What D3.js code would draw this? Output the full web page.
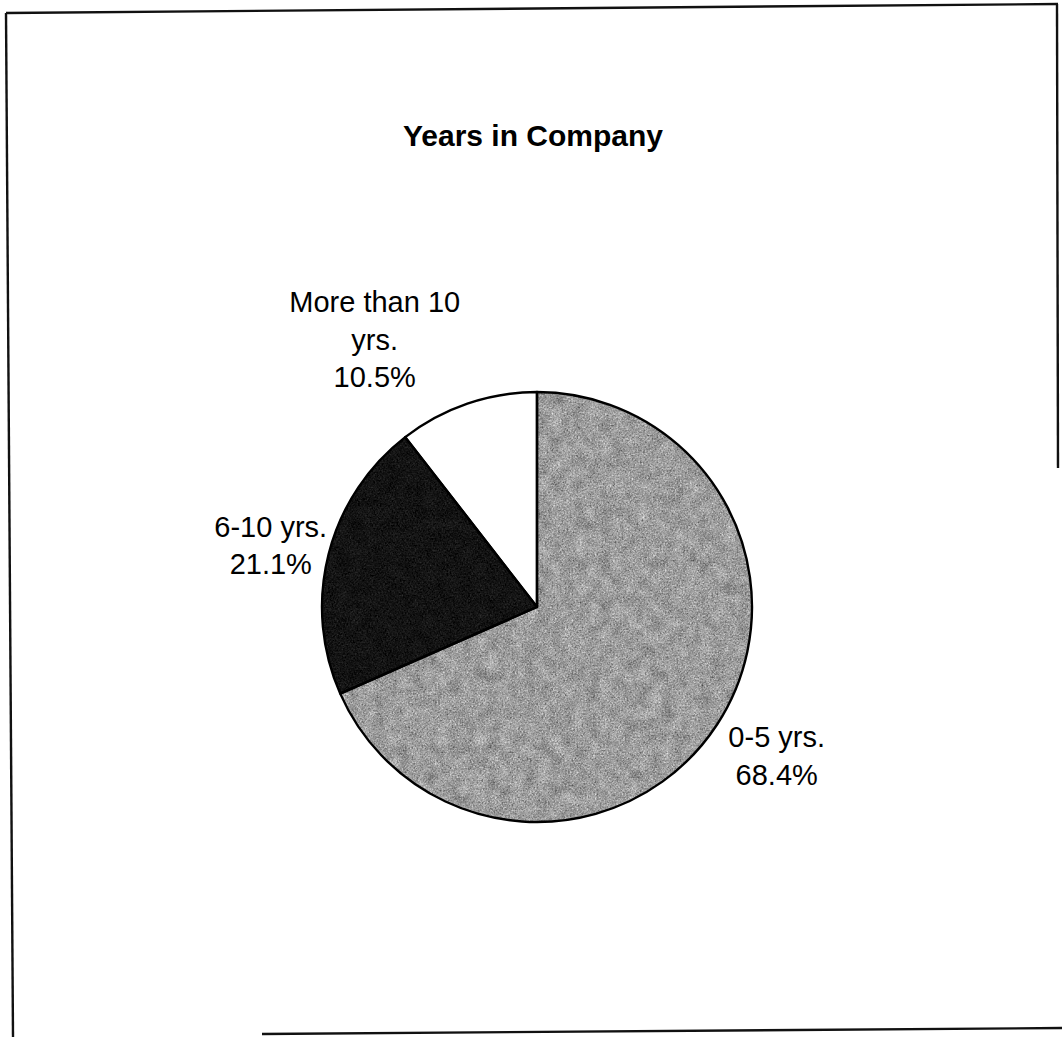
<!DOCTYPE html>
<html>
<head>
<meta charset="utf-8">
<script src="https://cdn.jsdelivr.net/npm/d3@7"></script>
<style>
  html, body { margin: 0; padding: 0; background: #fff; }
  svg { display: block; }
</style>
</head>
<body>
<svg id="chart" width="1062" height="1037"></svg>
<script>
// Share of staff by length of service
const categories = ["0-5 yrs.", "6-10 yrs.", "More than 10 yrs."];
const labelLines = [["0-5 yrs."], ["6-10 yrs."], ["More than 10", "yrs."]];
const values = [68.4, 21.1, 10.5];
const sliceFills = ["#9e9e9e", "#141414", "#ffffff"];
const fineGrain = [1.0, 0.4, 0];
const coarseGrain = [0.45, 0.12, 0];

const W = 1062, H = 1037;
const cx = 537, cy = 607, radius = 215;
const fontFamily = "'Liberation Sans', Arial, sans-serif";
const lineStep = 37.5;
// fine placement of each label block around its slice
const labelNudge = [[1, -7], [10, 8], [-70, 2]];

const svg = d3.select("#chart");
const defs = svg.append("defs");

// printed-grain texture for the shaded slices: fine speckle plus soft mottling
fineGrain.forEach((amt, i) => {
  const f = defs.append("filter").attr("id", "grain" + i)
    .attr("x", 0).attr("y", 0).attr("width", 1).attr("height", 1)
    .attr("color-interpolation-filters", "sRGB");
  const greyMatrix = "0.33 0.33 0.33 0 0  0.33 0.33 0.33 0 0  0.33 0.33 0.33 0 0  0 0 0 0 1";
  f.append("feTurbulence").attr("type", "fractalNoise")
    .attr("baseFrequency", 0.6).attr("numOctaves", 3).attr("seed", 7 + i)
    .attr("result", "fineNoise");
  f.append("feColorMatrix").attr("in", "fineNoise").attr("type", "matrix")
    .attr("values", greyMatrix).attr("result", "fine");
  f.append("feTurbulence").attr("type", "fractalNoise")
    .attr("baseFrequency", 0.08).attr("numOctaves", 3).attr("seed", 21 + i)
    .attr("result", "coarseNoise");
  f.append("feColorMatrix").attr("in", "coarseNoise").attr("type", "matrix")
    .attr("values", greyMatrix).attr("result", "coarse");
  f.append("feComposite").attr("in", "fine").attr("in2", "SourceGraphic")
    .attr("operator", "arithmetic")
    .attr("k1", 0).attr("k2", amt).attr("k3", 1).attr("k4", -0.5 * amt)
    .attr("result", "mix1");
  f.append("feComposite").attr("in", "coarse").attr("in2", "mix1")
    .attr("operator", "arithmetic")
    .attr("k1", 0).attr("k2", coarseGrain[i]).attr("k3", 1).attr("k4", -0.5 * coarseGrain[i])
    .attr("result", "mix2");
  f.append("feComposite").attr("in", "mix2").attr("in2", "SourceAlpha")
    .attr("operator", "in");
});

// frame
const frame = svg.append("g").attr("stroke", "#111").attr("stroke-width", 2.4).attr("fill", "none");
frame.append("line").attr("x1", 6).attr("y1", 13).attr("x2", 1058).attr("y2", 4);
frame.append("line").attr("x1", 6).attr("y1", 13).attr("x2", 13).attr("y2", 1037);
frame.append("line").attr("x1", 262).attr("y1", 1034).attr("x2", 1062).attr("y2", 1028);
frame.append("line").attr("x1", 1057).attr("y1", 4).attr("x2", 1058).attr("y2", 468);

// title
svg.append("text")
  .attr("x", 533).attr("y", 146)
  .attr("text-anchor", "middle")
  .attr("font-family", fontFamily)
  .attr("font-weight", "bold")
  .attr("font-size", 30)
  .attr("fill", "#000")
  .text("Years in Company");

// pie
const pie = d3.pie().sort(null).value(d => d)
  .startAngle(0).endAngle(2 * Math.PI);
const arcs = pie(values);
const arc = d3.arc().innerRadius(0).outerRadius(radius);
const labelArc = d3.arc().innerRadius(radius + 70).outerRadius(radius + 70);

const g = svg.append("g").attr("transform", `translate(${cx},${cy})`);

g.selectAll("path.slice")
  .data(arcs)
  .join("path")
  .attr("class", "slice")
  .attr("d", arc)
  .attr("fill", (d, i) => sliceFills[i])
  .attr("filter", (d, i) => fineGrain[i] > 0 ? `url(#grain${i})` : null);

g.selectAll("path.edge")
  .data(arcs)
  .join("path")
  .attr("class", "edge")
  .attr("d", arc)
  .attr("fill", "none")
  .attr("stroke", "#000")
  .attr("stroke-width", 2.4)
  .attr("stroke-linejoin", "round");

// slice labels: category lines followed by the percentage
g.selectAll("text.label")
  .data(arcs)
  .join("text")
  .attr("class", "label")
  .attr("text-anchor", "middle")
  .attr("font-family", fontFamily)
  .attr("font-size", 29)
  .attr("fill", "#000")
  .each(function (d, i) {
    const lines = labelLines[i].concat([d3.format(".1f")(values[i]) + "%"]);
    const [lx, ly] = labelArc.centroid(d);
    const x = lx + labelNudge[i][0];
    const midY = ly + labelNudge[i][1];
    const firstBaseline = midY - (lines.length - 1) * lineStep / 2 + 10.5;
    const t = d3.select(this);
    lines.forEach((ln, k) => {
      t.append("tspan")
        .attr("x", x)
        .attr("y", firstBaseline + k * lineStep)
        .text(ln);
    });
  });
</script>
</body>
</html>
